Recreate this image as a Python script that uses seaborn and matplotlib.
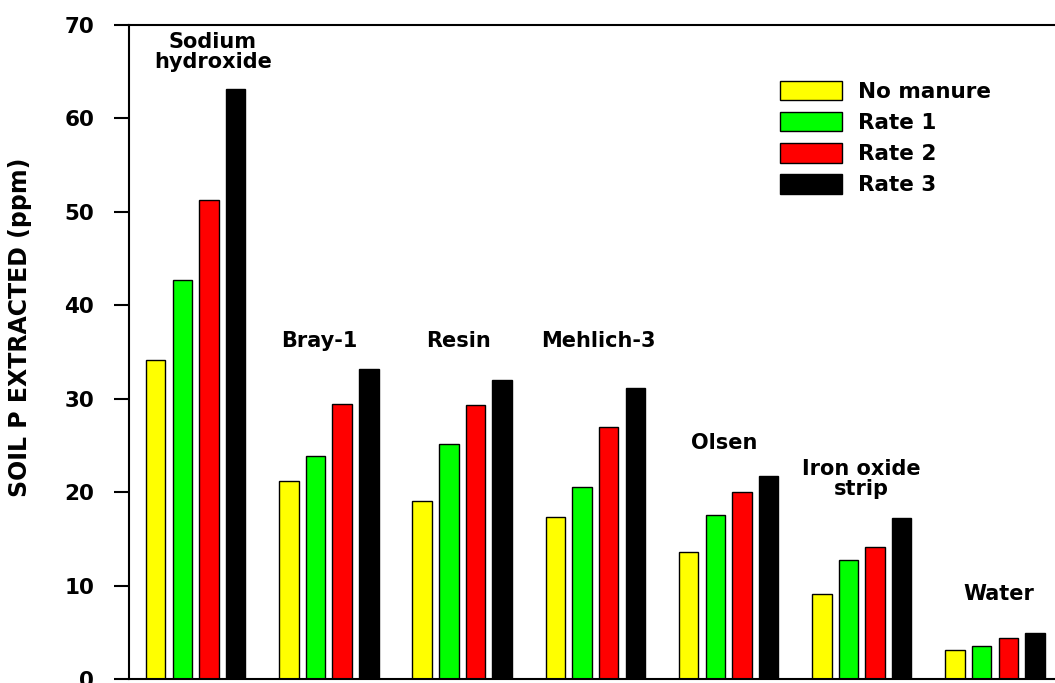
import pandas as pd
import numpy as np
import matplotlib
matplotlib.use("Agg")
import matplotlib.pyplot as plt
import seaborn as sns

# soil P extracted by each method, per manure treatment
methods = ["Sodium\nhydroxide", "Bray-1", "Resin", "Mehlich-3", "Olsen",
           "Iron oxide\nstrip", "Water"]
treatments = ["No manure", "Rate 1", "Rate 2", "Rate 3"]
no_manure = [34.1, 21.2, 19.0, 17.3, 13.6, 9.1, 3.1]
rate_1 = [42.7, 23.9, 25.1, 20.5, 17.5, 12.7, 3.5]
rate_2 = [51.3, 29.4, 29.3, 27.0, 20.0, 14.1, 4.4]
rate_3 = [63.1, 33.2, 32.0, 31.1, 21.7, 17.2, 4.9]
colors = ["#ffff00", "#00ff00", "#ff0000", "#000000"]

# where the method names sit (data units)
label_x = [0.13, -0.07, -0.03, 0.02, -0.03, 0.0, 0.03]
label_y = [67.1, 36.2, 36.2, 36.2, 25.3, 21.4, 9.1]

df = pd.DataFrame({
    "method": np.repeat(methods, 4),
    "treatment": treatments * len(methods),
    "value": np.array([no_manure, rate_1, rate_2, rate_3]).T.ravel(),
})

sns.set_style("white")
plt.rcParams["font.family"] = ["DejaVu Sans"]
plt.rcParams["font.weight"] = "bold"
plt.rcParams["text.color"] = "black"
plt.rcParams["axes.labelcolor"] = "black"
plt.rcParams["ytick.color"] = "black"

fig = plt.figure(figsize=(10.55, 6.83), dpi=100)
ax = fig.add_axes([0.1223, 0.0059, 0.884, 0.9575])

sns.barplot(data=df, x="method", y="value", hue="treatment",
            hue_order=treatments, palette=colors, order=methods,
            saturation=1, width=0.8, gap=0.27, edgecolor="black",
            linewidth=1.0, errorbar=None, ax=ax)

ax.set_xlim(-0.5, 6.5)
ax.set_ylim(0, 70)
ax.set_yticks(range(0, 71, 10))
ax.set_xticks([])
ax.set_xlabel("")
ax.set_ylabel("SOIL P EXTRACTED (ppm)", fontsize=17, fontweight="bold")
ax.yaxis.set_label_coords(-0.104, 0.537)
ax.tick_params(axis="y", direction="out", length=11, width=1.5, pad=14,
               labelsize=15.5, left=True)
for lab in ax.get_yticklabels():
    lab.set_fontweight("bold")
for s in ["left", "top", "bottom"]:
    ax.spines[s].set_linewidth(1.5)
    ax.spines[s].set_color("black")
ax.spines["right"].set_visible(False)

for i, name in enumerate(methods):
    ax.text(i + label_x[i], label_y[i], name, ha="center", va="center",
            fontsize=15, fontweight="bold", linespacing=1.05)

ax.legend(loc="upper left", bbox_to_anchor=(780 / 1055, 1 - 81 / 683),
          bbox_transform=fig.transFigure, frameon=False,
          handlelength=2.9, handleheight=1.0, labelspacing=0.47,
          handletextpad=0.7, borderpad=0, borderaxespad=0,
          prop={"weight": "bold", "size": 15.5})

fig.savefig("out.png", dpi=100)
